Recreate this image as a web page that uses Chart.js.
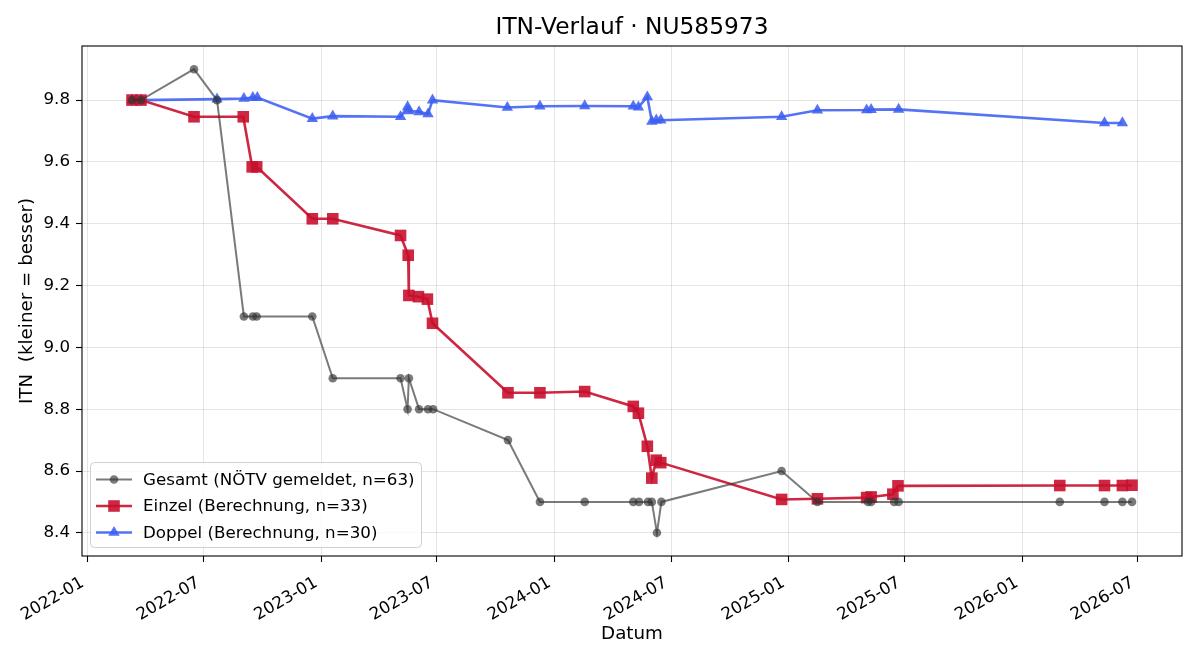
<!DOCTYPE html>
<html>
<head>
<meta charset="utf-8">
<script src="https://cdn.jsdelivr.net/npm/chart.js@4.4.0/dist/chart.umd.min.js"></script>
<style>html,body{margin:0;background:#fff}</style>
</head>
<body>
<canvas id="itn" width="1200" height="660"></canvas>
<script>
// Gesamt (NÖTV gemeldet)
const gesamtDates = ['2022-03-11','2022-03-25','2022-06-16','2022-07-22','2022-09-02','2022-09-16','2022-09-22','2022-12-18',
  '2023-01-19','2023-05-05','2023-05-16','2023-05-18','2023-06-03','2023-06-17','2023-06-25','2023-10-20','2023-12-09',
  '2024-02-17','2024-05-03','2024-05-12','2024-05-26','2024-06-01','2024-06-09','2024-06-16','2024-12-21',
  '2025-02-15','2025-05-05','2025-05-10','2025-06-15','2025-06-22','2026-03-01','2026-05-10','2026-06-07','2026-06-22'];
const gesamtVals = [9.8,9.8,9.9,9.8,9.1,9.1,9.1,9.1,
  8.9,8.9,8.8,8.9,8.8,8.8,8.8,8.7,8.5,
  8.5,8.5,8.5,8.5,8.5,8.4,8.5,8.6,
  8.5,8.5,8.5,8.5,8.5,8.5,8.5,8.5,8.5];

// Einzel (Berechnung)
const einzelDates = ['2022-03-11','2022-03-25','2022-06-16','2022-09-01','2022-09-15','2022-09-22','2022-12-18',
  '2023-01-19','2023-05-05','2023-05-17','2023-05-18','2023-06-02','2023-06-16','2023-06-24','2023-10-20','2023-12-09',
  '2024-02-17','2024-05-03','2024-05-11','2024-05-25','2024-06-01','2024-06-08','2024-06-15','2024-12-21',
  '2025-02-15','2025-05-03','2025-05-10','2025-06-13','2025-06-21','2026-03-01','2026-05-10','2026-06-07','2026-06-22'];
const einzelVals = [9.8,9.8,9.746,9.746,9.584,9.584,9.416,
  9.416,9.362,9.298,9.168,9.164,9.156,9.078,8.853,8.853,
  8.857,8.809,8.787,8.680,8.577,8.635,8.627,8.508,
  8.510,8.514,8.516,8.525,8.552,8.553,8.553,8.553,8.554];

// Doppel (Berechnung)
const doppelDates = ['2022-03-11','2022-03-25','2022-07-22','2022-09-02','2022-09-16','2022-09-23','2022-12-18',
  '2023-01-19','2023-05-05','2023-05-16','2023-05-18','2023-06-03','2023-06-17','2023-06-24','2023-10-19','2023-12-09',
  '2024-02-17','2024-05-03','2024-05-11','2024-05-25','2024-06-01','2024-06-08','2024-06-15','2024-12-21',
  '2025-02-15','2025-05-03','2025-05-10','2025-06-22','2026-05-10','2026-06-07'];
const doppelVals = [9.8,9.8,9.803,9.805,9.808,9.808,9.74,
  9.748,9.746,9.778,9.765,9.762,9.755,9.8,9.776,9.78,
  9.781,9.78,9.777,9.81,9.731,9.735,9.735,9.746,
  9.767,9.768,9.769,9.77,9.726,9.726];

const yTicks = [8.4, 8.6, 8.8, 9.0, 9.2, 9.4, 9.6, 9.8];
const seriesLabels = ['Gesamt (NÖTV gemeldet, n=63)', 'Einzel (Berechnung, n=33)', 'Doppel (Berechnung, n=30)'];
const chartTitle = 'ITN-Verlauf · NU585973';

const FONT = "'DejaVu Sans', sans-serif";
const toTs = s => Date.UTC(+s.slice(0, 4), +s.slice(5, 7) - 1, +s.slice(8, 10));
const toPoints = (dates, vals) => dates.map((d, i) => ({x: toTs(d), y: vals[i]}));

let allX = [].concat(gesamtDates, einzelDates, doppelDates).map(toTs);
let allY = [].concat(gesamtVals, einzelVals, doppelVals);
let xMin = Math.min(...allX), xMax = Math.max(...allX);
let yMin = Math.min(...allY), yMax = Math.max(...allY);
let xPad = (xMax - xMin) * 0.05, yPad = (yMax - yMin) * 0.05;

let styles = [
    {color: 'rgba(51,51,51,0.65)', width: 2, shape: 'circle', r: 4.3},
    {color: 'rgba(200,16,46,0.9)', width: 2.6, shape: 'rect', r: 8.2},
    {color: 'rgba(61,96,242,0.88)', width: 2.6, shape: 'triangle', r: 6.6}
];

let makeSet = (i, pts) => ({
    label: seriesLabels[i],
    data: pts,
    showLine: true,
    borderColor: styles[i].color,
    backgroundColor: styles[i].color,
    borderWidth: styles[i].width,
    pointStyle: styles[i].shape,
    pointRadius: styles[i].r,
    pointHoverRadius: styles[i].r,
    pointBorderWidth: 0,
    pointBackgroundColor: styles[i].color,
    tension: 0
});

//titulo, marco y leyenda dibujados a mano
let boxLegend = {
    id: 'boxLegend',
    afterDatasetsDraw(chart) {
        const ctx = chart.ctx, a = chart.chartArea;
        ctx.save();
        ctx.fillStyle = '#000';
        ctx.font = '23.3px ' + FONT;
        ctx.textAlign = 'center';
        ctx.textBaseline = 'middle';
        ctx.fillText(chartTitle, (a.left + a.right) / 2, 28);
        ctx.textAlign = 'left';

        ctx.strokeStyle = '#000';
        ctx.lineWidth = 1.1;
        ctx.strokeRect(a.left, a.top, a.right - a.left, a.bottom - a.top);

        let lx = a.left + 8, ly = a.bottom - 94, lw = 331, lh = 85;
        ctx.beginPath();
        ctx.roundRect(lx + 0.5, ly + 0.5, lw, lh, 4);
        ctx.fillStyle = 'rgba(255,255,255,0.8)';
        ctx.fill();
        ctx.strokeStyle = '#d0d0d0';
        ctx.lineWidth = 1;
        ctx.stroke();

        ctx.font = '16.7px ' + FONT;
        styles.forEach((s, i) => {
            let y = ly + 17.5 + i * 26.5;
            ctx.strokeStyle = s.color;
            ctx.lineWidth = s.width;
            ctx.beginPath();
            ctx.moveTo(lx + 6, y);
            ctx.lineTo(lx + 42, y);
            ctx.stroke();
            ctx.fillStyle = s.color;
            let cx = lx + 24;
            ctx.beginPath();
            if (s.shape === 'circle') {
                ctx.arc(cx, y, s.r, 0, Math.PI * 2);
            } else if (s.shape === 'rect') {
                let h = s.r * Math.SQRT1_2;
                ctx.rect(cx - h, y - h, 2 * h, 2 * h);
            } else {
                ctx.moveTo(cx, y - s.r);
                ctx.lineTo(cx + s.r * 0.866, y + s.r * 0.5);
                ctx.lineTo(cx - s.r * 0.866, y + s.r * 0.5);
                ctx.closePath();
            }
            ctx.fill();
            ctx.fillStyle = '#000';
            ctx.fillText(seriesLabels[i], lx + 53, y + 1);
        });
        ctx.restore();
    }
};

let grafico = new Chart(document.getElementById('itn'), {
    type: 'scatter',
    data: {
        datasets: [
            makeSet(0, toPoints(gesamtDates, gesamtVals)),
            makeSet(1, toPoints(einzelDates, einzelVals)),
            makeSet(2, toPoints(doppelDates, doppelVals))
        ]
    },
    options: {
        responsive: false,
        animation: false,
        layout: {padding: {left: 0, right: 18, top: 46, bottom: 0}},
        plugins: {
            legend: {display: false},
            tooltip: {enabled: false},
            title: {display: false}
        },
        scales: {
            x: {
                type: 'linear',
                min: xMin - xPad,
                max: xMax + xPad,
                afterBuildTicks: (scale) => {
                    let t = [];
                    for (let y = 2021; y <= 2027; y++) {
                        [0, 6].forEach(m => {
                            let v = Date.UTC(y, m, 1);
                            if (v >= scale.min && v <= scale.max) t.push({value: v});
                        });
                    }
                    scale.ticks = t;
                },
                afterFit: (scale) => { scale.height = 104; },
                border: {display: false},
                grid: {color: 'rgba(0,0,0,0.1)', lineWidth: 1, tickColor: '#000', tickLength: 6, tickWidth: 1.1},
                ticks: {
                    color: '#000',
                    font: {family: FONT, size: 16.7},
                    minRotation: 30,
                    maxRotation: 30,
                    padding: 11,
                    labelOffset: -5,
                    callback: (v) => {
                        let d = new Date(v);
                        return d.getUTCFullYear() + '-' + String(d.getUTCMonth() + 1).padStart(2, '0');
                    }
                },
                title: {display: true, text: 'Datum', color: '#000', font: {family: FONT, size: 18.3}, padding: {top: 0, bottom: 15}}
            },
            y: {
                min: yMin - yPad,
                max: yMax + yPad,
                afterBuildTicks: (scale) => { scale.ticks = yTicks.map(v => ({value: v})); },
                afterFit: (scale) => { scale.width = 82; },
                border: {display: false},
                grid: {color: 'rgba(0,0,0,0.1)', lineWidth: 1, tickColor: '#000', tickLength: 6, tickWidth: 1.1},
                ticks: {
                    color: '#000',
                    font: {family: FONT, size: 16.7},
                    padding: 6,
                    callback: (v) => Number(v).toFixed(1)
                },
                title: {display: true, text: 'ITN  (kleiner = besser)', color: '#000', font: {family: FONT, size: 18.3}, padding: {top: 16, bottom: 0}}
            }
        }
    },
    plugins: [boxLegend]
});
</script>
</body>
</html>
